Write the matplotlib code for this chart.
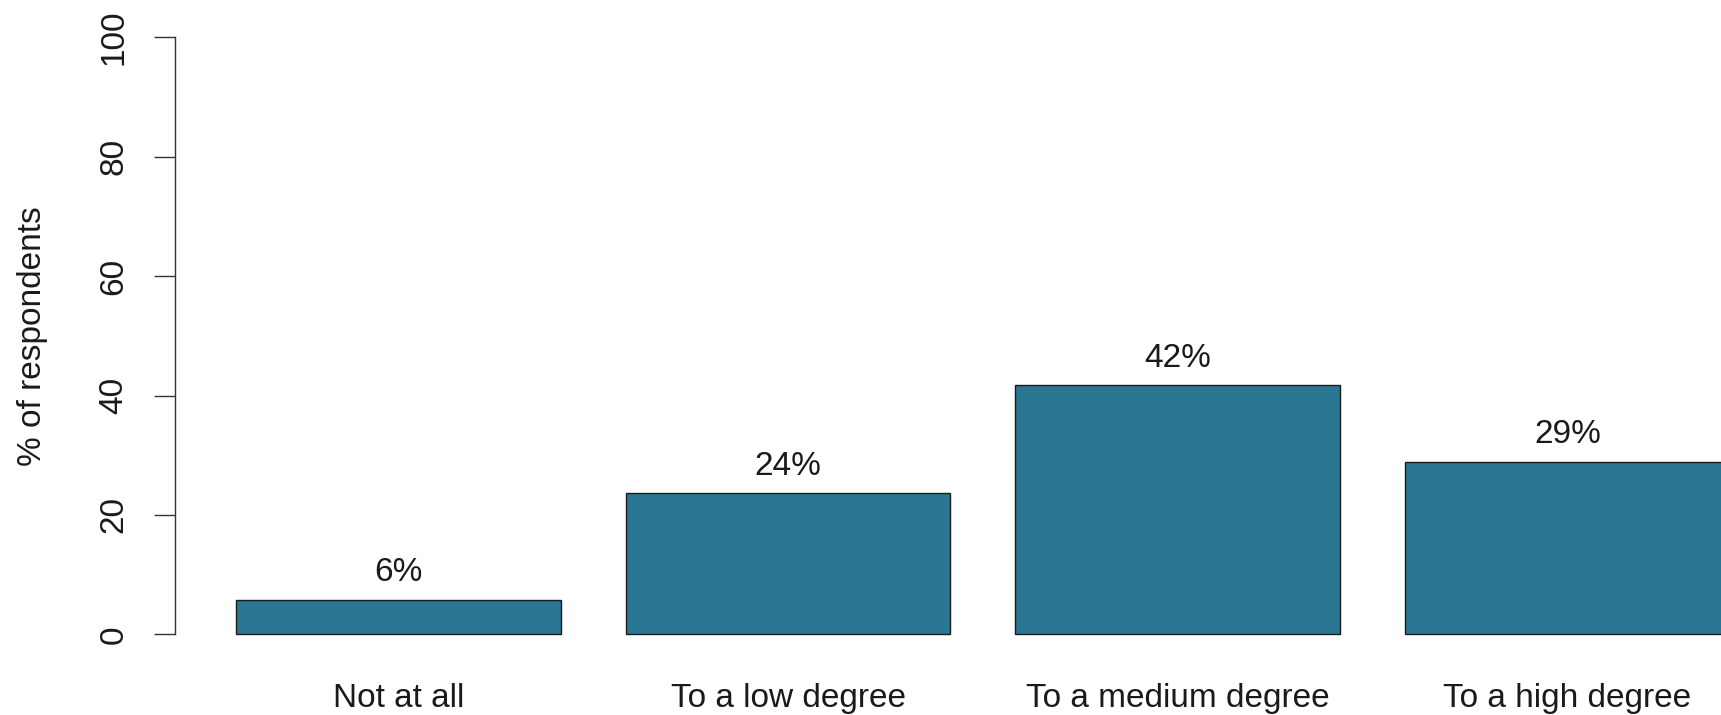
import matplotlib
matplotlib.use("Agg")
import matplotlib.pyplot as plt

categories = ["Not at all", "To a low degree", "To a medium degree", "To a high degree"]
values = [5.8, 23.6, 41.7, 28.9]
value_labels = ["6%", "24%", "42%", "29%"]
yticks = [0, 20, 40, 60, 80, 100]

plt.rcParams['font.family'] = ['Liberation Sans', 'DejaVu Sans']

W, H = 1721, 715
fig = plt.figure(figsize=(W / 100, H / 100), dpi=100)
ax = fig.add_axes([174.5 / W, (H - 658.3) / H, 1 - 174.5 / W, (658.3 - 13.4) / H])

width = 1.0
space = 0.2
lefts = [space + i * (width + space) for i in range(len(values))]
centers = [l + width / 2 for l in lefts]

ax.bar(centers, values, width=width, color='#2A7794', edgecolor='#1a1a1a', linewidth=1.0)

for c, v, lab in zip(centers, values, value_labels):
    ax.text(c, v + 4.5, lab, ha='center', va='center', fontsize=24, color='#1a1a1a')

ax.set_xlim(0.0106, 4.773)
ax.set_ylim(-4, 104)

for s in ['top', 'right', 'bottom']:
    ax.spines[s].set_visible(False)
ax.spines['left'].set_bounds(0, 100)
ax.spines['left'].set_linewidth(1.0)
ax.spines['left'].set_color('#333333')

ax.set_yticks(yticks)
ax.set_yticklabels([str(t) for t in yticks], rotation=90, va='center')
ax.tick_params(axis='y', length=15, width=1.0, color='#333333', pad=17.5, labelsize=24, labelcolor='#1a1a1a')

ax.set_xticks(centers)
ax.set_xticklabels(categories)
ax.tick_params(axis='x', length=0, pad=18, labelsize=24, labelcolor='#1a1a1a')

ax.set_ylabel("% of respondents", fontsize=24, color='#1a1a1a', va='center')
ax.yaxis.set_label_coords(-(174.5 - 33) / (W - 174.5), 0.5)

fig.savefig("out.png", dpi=100)
